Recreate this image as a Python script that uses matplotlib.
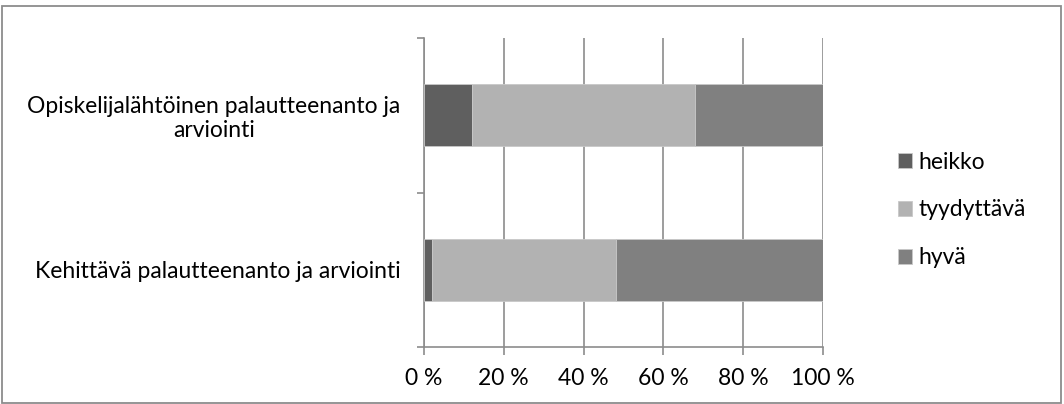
import matplotlib
matplotlib.use("Agg")
import matplotlib.pyplot as plt
from matplotlib.patches import Rectangle
from matplotlib.ticker import FixedLocator

plt.rcParams['font.family'] = ['Lato', 'DejaVu Sans']

# Survey result shares (%), one entry per category
categories = ["Opiskelijalähtöinen palautteenanto ja\narviointi",
              "Kehittävä palautteenanto ja arviointi"]
series_names = ["heikko", "tyydyttävä", "hyvä"]
heikko = [12, 2]
tyydyttava = [56, 46]
hyva = [32, 52]
x_ticks = [0, 20, 40, 60, 80, 100]
x_tick_labels = ["0 %", "20 %", "40 %", "60 %", "80 %", "100 %"]

colors = ["#5f5f5f", "#b2b2b2", "#808080"]
grid_color = "#8c8c8c"
fs = 16.5

fig = plt.figure(figsize=(10.64, 4.04), dpi=100)
ax = fig.add_axes([424 / 1064, 57 / 404, 399 / 1064, 309 / 404])

ypos = list(range(len(categories)))
left = [0] * len(categories)
for name, vals, col in zip(series_names, [heikko, tyydyttava, hyva], colors):
    ax.barh(ypos, vals, left=left, height=0.4, color=col, label=name,
            edgecolor="#c8c8c8", linewidth=0.6, zorder=3)
    left = [a + b for a, b in zip(left, vals)]

ax.set_xlim(0, 100)
ax.set_ylim(1.5, -0.5)
ax.set_xticks(x_ticks)
ax.set_xticklabels(x_tick_labels, fontsize=fs)
ax.set_yticks(ypos)
ax.set_yticklabels(categories, fontsize=fs, ha="right", multialignment="center",
                   linespacing=1.15)
ax.yaxis.set_minor_locator(FixedLocator([-0.5, 0.5, 1.5]))
ax.tick_params(axis="y", which="major", length=0, pad=17)
ax.tick_params(axis="y", which="minor", length=5, width=1.2, color=grid_color, direction="out")
ax.tick_params(axis="x", which="major", length=6, width=1.2, color=grid_color, pad=9)

ax.grid(axis="x", color=grid_color, linewidth=1.2, zorder=0)
for side in ["top", "right"]:
    ax.spines[side].set_visible(False)
for side in ["left", "bottom"]:
    ax.spines[side].set_color(grid_color)
    ax.spines[side].set_linewidth(1.2)

leg = fig.legend(loc="center left", bbox_to_anchor=(898 / 1064, 1 - 210 / 404),
                 frameon=False, fontsize=fs, handlelength=0.62, handleheight=0.62,
                 handletextpad=0.26, labelspacing=1.17, borderaxespad=0, borderpad=0)

# Chart frame
fig.patches.append(Rectangle((2 / 1064, 1 / 404), 1059 / 1064, 397 / 404,
                             transform=fig.transFigure, fill=False,
                             edgecolor="#8c8c8c", linewidth=1.3))

fig.savefig("out.png", dpi=100)
